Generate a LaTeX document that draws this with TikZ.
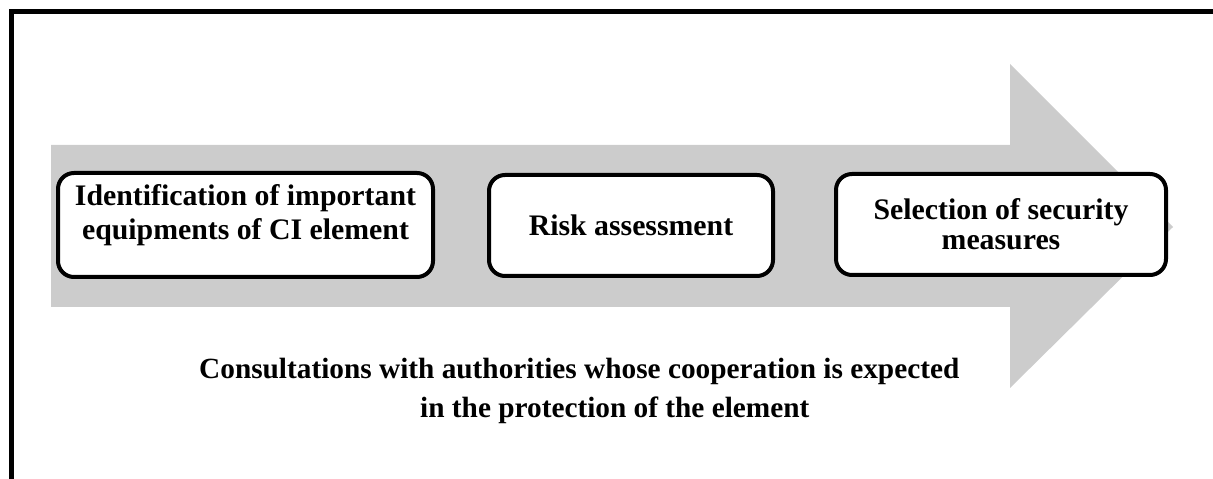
\documentclass[tikz,border=0pt]{standalone}
\usepackage{fontspec}
\setmainfont{Liberation Serif}
\newcommand\stagetextstyle{\fontsize{29.8}{34}\selectfont\bfseries}
\newcommand\notetextstyle{\fontsize{29.3}{39}\selectfont\bfseries}
\newcommand\flowgray{black!20}
\tikzset{
  stagebox/.style={draw, line width=4pt, rounded corners=16pt, fill=white, align=center, font=\stagetextstyle, inner sep=0pt},
  framestyle/.style={line width=5pt},
  notetext/.style={align=left, font=\notetextstyle, inner sep=0pt, anchor=base west}
}

\begin{document}
\begin{tikzpicture}[x=1pt, y=1pt]
    \useasboundingbox (0, 0) rectangle (1213, 479);
    \fill[\flowgray] (51, 334) -- (1010, 334) -- (1010, 415) -- (1173, 252) -- (1010, 91) -- (1010, 172) -- (51, 172) -- cycle ;
    \draw[framestyle] (11.5, 0) -- (11.5, 467.5) -- (1213, 467.5) ;
    \node[stagebox, minimum width=375pt, minimum height=104pt] (ident) at (245.5, 254) {Identification of important\\equipments of CI element\rule[-25pt]{0pt}{0pt}} ;
    \node[stagebox, minimum width=284pt, minimum height=101pt] (risk) at (631, 253.5) {Risk assessment} ;
    \node[stagebox, minimum width=330pt, minimum height=101pt, font=\fontsize{29.8}{30}\selectfont\bfseries] (select) at (1001, 254.5) {Selection of security\\measures} ;
    \node[notetext] (consult) at (199, 61) {Consultations with authorities whose cooperation is expected\\\hspace*{221pt}in the protection of the element} ;
\end{tikzpicture}
\end{document}
